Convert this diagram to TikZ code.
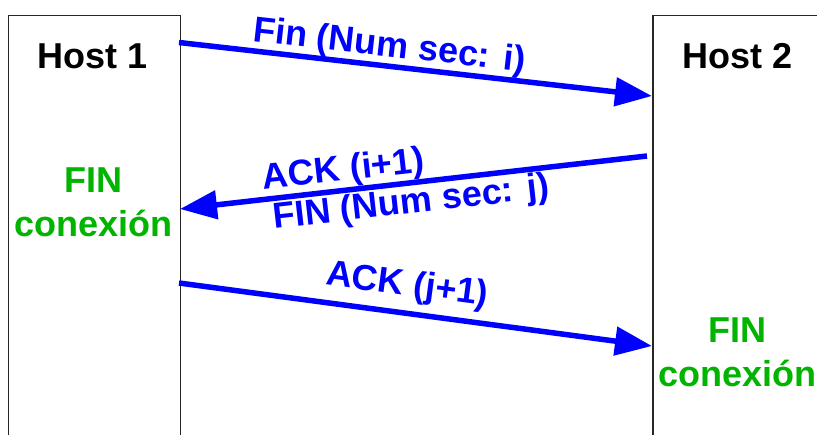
\documentclass[tikz,border=0pt]{standalone}
\usepackage{fontspec}
\setmainfont{Liberation Sans}
\usetikzlibrary{arrows.meta}
\definecolor{fingreen}{RGB}{0,180,0}
\definecolor{msgblue}{RGB}{0,0,255}
\begin{document}
\begin{tikzpicture}[x=1pt,y=-1pt,
  hostbox/.style={draw=black!85,line width=1.8pt,minimum width=172pt,minimum height=470pt,anchor=north west,inner sep=0pt},
  hosttitle/.style={font=\bfseries\fontsize{36}{40}\selectfont,text=black},
  fintext/.style={font=\bfseries\fontsize{36}{44}\selectfont,text=fingreen,align=center},
  msg/.style={draw=msgblue,line width=5.5pt,-{Triangle[length=37pt,width=28pt]}},
  msglabel/.style={font=\bfseries\fontsize{36}{40}\selectfont,text=msgblue,sloped,inner sep=2pt}]
\useasboundingbox (0,0) rectangle (817,434);
\clip (0,0) rectangle (817,434);
\fill[white] (0,0) rectangle (817,434);
\node[hostbox] (h1) at (7.5,14.5) {};
\node[hostbox] (h2) at (652,14.5) {};
\node[hosttitle] (t1) at (92.5,56) {Host 1};
\node[hosttitle] (t2) at (737.5,56) {Host 2};
\node[fintext] (f1) at (93.5,202) {FIN\\conexión};
\node[fintext] (f2) at (737.5,352) {FIN\\conexión};
\coordinate (a1s) at (179,42.5);
\coordinate (a1e) at (652,96);
\coordinate (a2s) at (647,156);
\coordinate (a2e) at (180,209);
\coordinate (a3s) at (179,283);
\coordinate (a3e) at (652,346);
\draw[msg] (a1s) -- (a1e);
\draw[msg] (a2s) -- (a2e);
\draw[msg] (a3s) -- (a3e);
\path (a1s) -- (a1e) node[msglabel,pos=0.44,above] (l1) {Fin (Num sec: i)};
\path (a2e) -- (a2s) node[msglabel,pos=0.355,above] (l2) {ACK (i+1)}
                     node[msglabel,pos=0.49,below,inner sep=4pt] (l3) {FIN (Num sec: j)};
\path (a3s) -- (a3e) node[msglabel,pos=0.475,above,inner sep=10pt] (l4) {ACK (j+1)};
\end{tikzpicture}
\end{document}
